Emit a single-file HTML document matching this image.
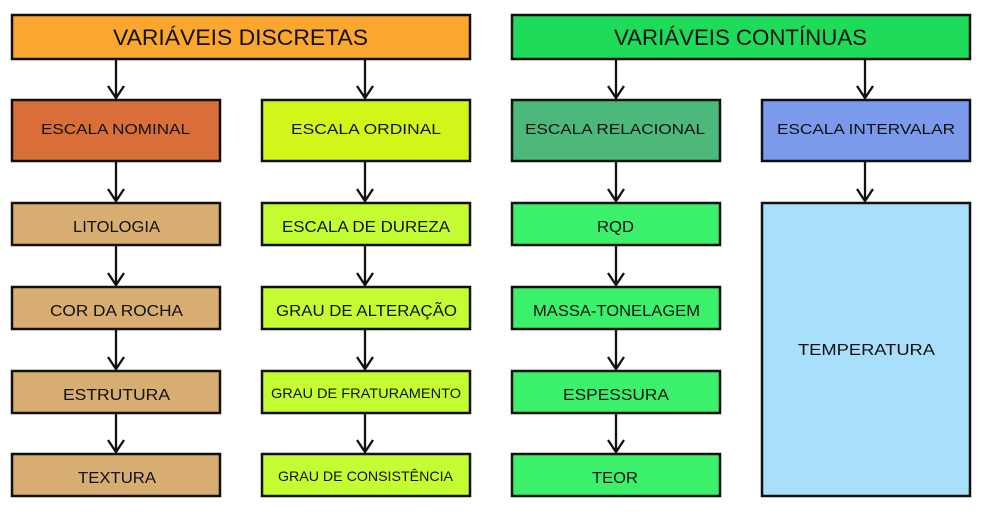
<!DOCTYPE html>
<html><head><meta charset="utf-8"><style>
html,body{margin:0;padding:0;background:#fff;width:987px;height:516px;overflow:hidden}
text{font-family:"Liberation Sans",Arial,sans-serif;fill:#111;text-anchor:start}
</style></head><body>
<svg width="987" height="516" viewBox="0 0 987 516" xmlns="http://www.w3.org/2000/svg">
<g stroke="#111" stroke-width="2.5">
<rect x="12" y="15" width="458" height="44" fill="#FBA62F"/>
<rect x="512" y="15" width="458" height="44" fill="#1EDB5A"/>
<rect x="12" y="100" width="208" height="61" fill="#D96E38"/>
<rect x="262" y="100" width="208" height="61" fill="#D4F51A"/>
<rect x="512" y="100" width="208" height="61" fill="#4CB87A"/>
<rect x="762" y="100" width="208" height="61" fill="#7B9AEC"/>
<g fill="#D7AD71">
<rect x="12" y="203" width="208" height="42"/><rect x="12" y="287" width="208" height="42"/>
<rect x="12" y="371" width="208" height="42"/><rect x="12" y="454" width="208" height="42"/></g>
<g fill="#C4FD31">
<rect x="262" y="203" width="208" height="42"/><rect x="262" y="287" width="208" height="42"/>
<rect x="262" y="371" width="208" height="42"/><rect x="262" y="454" width="208" height="42"/></g>
<g fill="#3BF16B">
<rect x="512" y="203" width="208" height="42"/><rect x="512" y="287" width="208" height="42"/>
<rect x="512" y="371" width="208" height="42"/><rect x="512" y="454" width="208" height="42"/></g>
<rect x="762" y="203" width="208" height="293" fill="#A8DFFB"/>
</g>
<g stroke="#111" stroke-width="2.3" fill="none">
<path d="M116 59V98M108 86L116 98L124 86"/>
<path d="M365 59V98M357 86L365 98L373 86"/>
<path d="M616 59V98M608 86L616 98L624 86"/>
<path d="M865 59V98M857 86L865 98L873 86"/>
<path d="M116 161V201M108 189L116 201L124 189"/>
<path d="M365 161V201M357 189L365 201L373 189"/>
<path d="M616 161V201M608 189L616 201L624 189"/>
<path d="M865 161V201M857 189L865 201L873 189"/>
<path d="M116 245V285M108 273L116 285L124 273"/>
<path d="M365 245V285M357 273L365 285L373 273"/>
<path d="M616 245V285M608 273L616 285L624 273"/>
<path d="M116 329V369M108 357L116 369L124 357"/>
<path d="M365 329V369M357 357L365 369L373 357"/>
<path d="M616 329V369M608 357L616 369L624 357"/>
<path d="M116 413V452M108 440L116 452L124 440"/>
<path d="M365 413V452M357 440L365 452L373 440"/>
<path d="M616 413V452M608 440L616 452L624 440"/>
</g>
<g font-size="22">
<text x="113" y="45" textLength="255" lengthAdjust="spacingAndGlyphs">VARIÁVEIS DISCRETAS</text>
<text x="614" y="45" textLength="253" lengthAdjust="spacingAndGlyphs">VARIÁVEIS CONTÍNUAS</text>
</g>
<g font-size="15">
<text x="41" y="134" textLength="149" lengthAdjust="spacingAndGlyphs">ESCALA NOMINAL</text>
<text x="291" y="134" textLength="150" lengthAdjust="spacingAndGlyphs">ESCALA ORDINAL</text>
<text x="525" y="134" textLength="180" lengthAdjust="spacingAndGlyphs">ESCALA RELACIONAL</text>
<text x="777" y="134" textLength="178" lengthAdjust="spacingAndGlyphs">ESCALA INTERVALAR</text>
</g>
<g font-size="16">
<text x="73" y="232" textLength="87" lengthAdjust="spacingAndGlyphs">LITOLOGIA</text>
<text x="50" y="316" textLength="133" lengthAdjust="spacingAndGlyphs">COR DA ROCHA</text>
<text x="63" y="400" textLength="107" lengthAdjust="spacingAndGlyphs">ESTRUTURA</text>
<text x="78" y="483" textLength="78" lengthAdjust="spacingAndGlyphs">TEXTURA</text>
<text x="282" y="232" textLength="168" lengthAdjust="spacingAndGlyphs">ESCALA DE DUREZA</text>
<text x="276" y="316" textLength="181" lengthAdjust="spacingAndGlyphs">GRAU DE ALTERAÇÃO</text>
<text x="597" y="232" textLength="37" lengthAdjust="spacingAndGlyphs">RQD</text>
<text x="533" y="316" textLength="167" lengthAdjust="spacingAndGlyphs">MASSA-TONELAGEM</text>
<text x="563" y="400" textLength="106" lengthAdjust="spacingAndGlyphs">ESPESSURA</text>
<text x="592" y="483" textLength="46" lengthAdjust="spacingAndGlyphs">TEOR</text>
<text x="798" y="355" textLength="137" lengthAdjust="spacingAndGlyphs">TEMPERATURA</text>
</g>
<g font-size="14">
<text x="271" y="398" textLength="190" lengthAdjust="spacingAndGlyphs">GRAU DE FRATURAMENTO</text>
<text x="278" y="481" textLength="175" lengthAdjust="spacingAndGlyphs">GRAU DE CONSISTÊNCIA</text>
</g>
</svg>
</body></html>
